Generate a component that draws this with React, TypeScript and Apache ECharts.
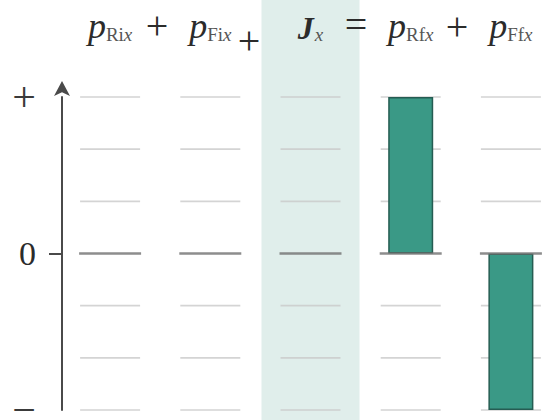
import React, { useEffect, useRef } from "react";
import * as echarts from "echarts";

// ---- data ----
const categories = ["pRix", "pFix", "Jx", "pRfx", "pFfx"];
const termSymbols = ["p", "p", "J", "p", "p"];
const termSubs = ["Ri", "Fi", "", "Rf", "Ff"];
const momentum = [0, 0, 0, 3, -3];
const shade = [0, 0, 1, 0, 0];
const levels = [-3, -2, -1, 1, 2, 3];
const zeroLevels = [0];
const yLabelValues = [3, 0, -3];
const yLabelTexts = ["+", "0", "\u2212"];
const operators = ["+", "+", "=", "+"];

const FONT = "'Liberation Serif', 'DejaVu Serif', serif";

export default function App() {
  const ref = useRef<HTMLDivElement>(null);
  useEffect(() => {
    if (!ref.current) return;
    const chart = echarts.init(ref.current, null, { renderer: "svg" });

    const gridLeft = 60;
    const gridWidth = 501;

    const lineData = categories.flatMap((c) => levels.map((v) => [c, v]));
    const zeroData = categories.flatMap((c) => zeroLevels.map((v) => [c, v]));

    // operator positions (between term labels)
    const opPos = [
      { x: 157, y: 25 },
      { x: 249, y: 40 },
      { x: 356, y: 24 },
      { x: 457, y: 26 },
    ];

    const option: any = {
      animation: false,
      backgroundColor: "#ffffff",
      grid: [
        {
          left: gridLeft,
          width: gridWidth,
          top: 97,
          height: 313,
          outerBoundsMode: "none",
          containLabel: false,
        },
        {
          left: gridLeft,
          width: gridWidth,
          top: 0,
          height: 420,
          outerBoundsMode: "none",
          containLabel: false,
        },
      ],
      xAxis: [
        {
          type: "category",
          gridIndex: 0,
          data: categories,
          position: "top",
          boundaryGap: true,
          z: 10,
          axisLine: { show: false },
          axisTick: { show: false },
          splitLine: { show: false },
          axisLabel: {
            interval: 0,
            margin: 53,
            hideOverlap: false,
            formatter: (_v: string, i: number) => {
              const sym = termSymbols[i];
              const sub = termSubs[i];
              return (
                (sym === "J" ? `{J|${sym}}` : `{p|${sym}}`) +
                (sub ? `{s|${sub}}` : "") +
                `{si|x}`
              );
            },
            rich: {
              p: {
                fontFamily: FONT,
                fontStyle: "italic",
                fontSize: 36,
                lineHeight: 84,
                color: "#2b2b2b",
                verticalAlign: "bottom",
              },
              J: {
                fontFamily: FONT,
                fontStyle: "italic",
                fontWeight: "bold",
                fontSize: 32,
                lineHeight: 82,
                color: "#2b2b2b",
                verticalAlign: "bottom",
                padding: [0, 1, 0, 0],
              },
              s: {
                fontFamily: FONT,
                fontSize: 19,
                lineHeight: 20,
                color: "#555555",
                verticalAlign: "bottom",
              },
              si: {
                fontFamily: FONT,
                fontStyle: "italic",
                fontSize: 19,
                lineHeight: 20,
                color: "#555555",
                verticalAlign: "bottom",
              },
            },
          },
        },
        {
          type: "category",
          gridIndex: 1,
          data: categories,
          show: false,
        },
      ],
      yAxis: [
        {
          type: "value",
          gridIndex: 0,
          min: -3,
          max: 3,
          interval: 1,
          offset: -2,
          z: 10,
          axisLine: {
            show: true,
            symbol: ["none", "arrow"],
            symbolSize: [12, 15],
            symbolOffset: [0, 16],
            lineStyle: { color: "#4a4a4a", width: 2 },
          },
          axisTick: {
            show: true,
            customValues: [0],
            length: 13,
            lineStyle: { color: "#4a4a4a", width: 2 },
          },
          splitLine: { show: false },
          axisLabel: {
            show: true,
            customValues: yLabelValues,
            margin: 26,
            formatter: (v: number) => {
              const i = yLabelValues.indexOf(v);
              if (i < 0) return "";
              return i === 0
                ? `{b|${yLabelTexts[i]}}`
                : i === 1
                ? `{n|${yLabelTexts[i]}}`
                : `{m|${yLabelTexts[i]}}`;
            },
            rich: {
              n: { fontFamily: FONT, fontSize: 34, color: "#2b2b2b" },
              b: { fontFamily: FONT, fontSize: 42, color: "#3a3a3a" },
              m: {
                fontFamily: FONT,
                fontSize: 42,
                lineHeight: 14,
                color: "#3a3a3a",
              },
            },
          },
        },
        {
          type: "value",
          gridIndex: 1,
          min: 0,
          max: 1,
          show: false,
        },
      ],
      series: [
        {
          type: "bar",
          xAxisIndex: 1,
          yAxisIndex: 1,
          z: 0,
          barWidth: 98,
          silent: true,
          data: shade.map((v) => (v ? v : "-")),
          itemStyle: { color: "#e0eeeb" },
        },
        {
          type: "scatter",
          xAxisIndex: 0,
          yAxisIndex: 0,
          z: 1,
          symbol: "rect",
          symbolSize: [60, 1.6],
          data: lineData,
          itemStyle: { color: "#c9c9c9" },
          silent: true,
        },
        {
          type: "bar",
          xAxisIndex: 0,
          yAxisIndex: 0,
          z: 2,
          barWidth: 45,
          data: momentum.map((v) => (v === 0 ? "-" : v)),
          itemStyle: {
            color: "#3a9986",
            borderColor: "#255c52",
            borderWidth: 1.5,
          },
        },
        {
          type: "scatter",
          xAxisIndex: 0,
          yAxisIndex: 0,
          z: 3,
          symbol: "rect",
          symbolSize: [62, 2.6],
          data: zeroData,
          itemStyle: { color: "#707070" },
          silent: true,
        },
      ],
      graphic: operators.map((op, i) => ({
        type: "text",
        x: opPos[i].x,
        y: opPos[i].y,
        z: 20,
        style: {
          text: op,
          fontFamily: FONT,
          fontSize: 40,
          fill: "#2b2b2b",
          align: "center",
          verticalAlign: "middle",
        },
      })),
    };

    chart.setOption(option);
    return () => chart.dispose();
  }, []);

  return (
    <div
      ref={ref}
      style={{ position: "fixed", left: 0, top: 0, width: 546, height: 420 }}
    />
  );
}
